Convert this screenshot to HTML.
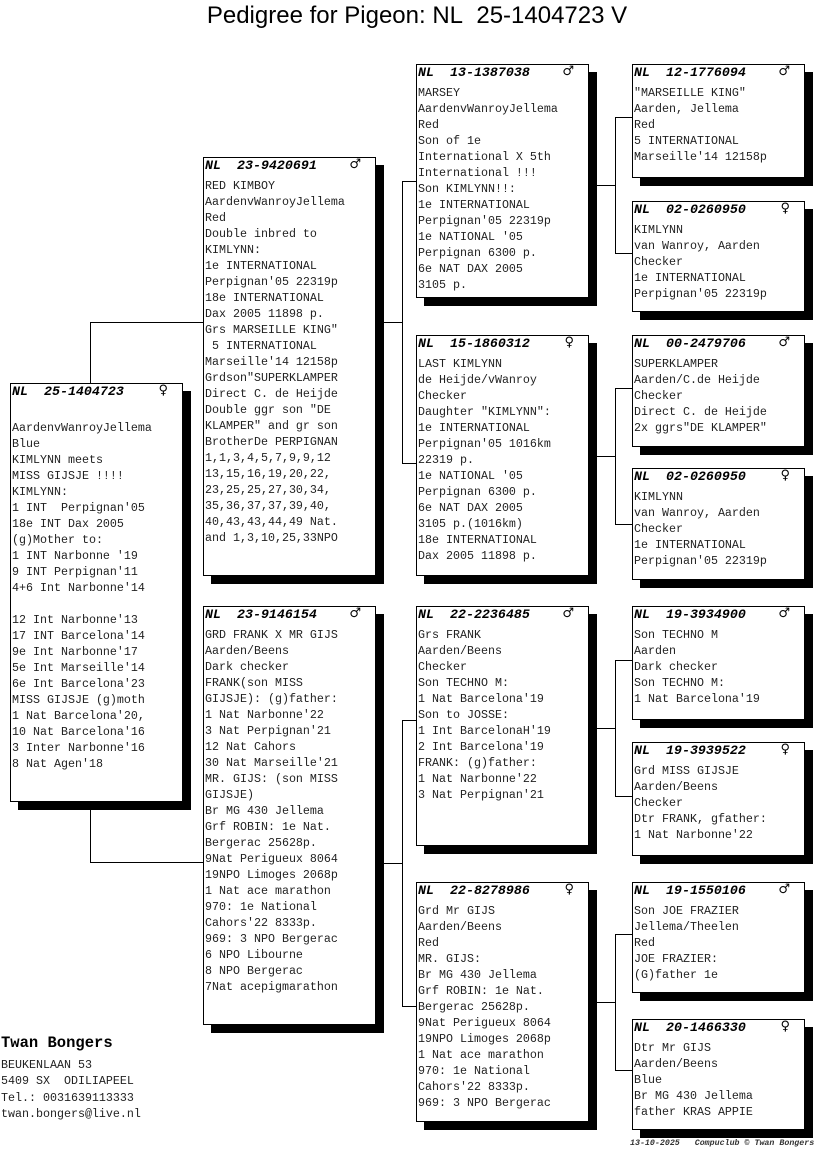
<!DOCTYPE html>
<html><head><meta charset="utf-8"><style>
body{margin:0;width:816px;height:1172px;background:#fff;position:relative;overflow:hidden;font-family:"Liberation Mono",monospace;}
.b{position:absolute;width:171px;border:1px solid #000;background:#fff;box-shadow:8px 8px 0 #000;font-size:11.67px;line-height:16px;color:#222;}
.h{height:20px;line-height:16px;font-weight:bold;font-style:italic;font-size:13.3px;padding-left:1px;position:relative;white-space:pre;color:#000}
.h i{position:absolute;left:33px;top:0;font-style:italic}
.g{position:absolute;right:14px;top:-1px;font-family:"DejaVu Sans",sans-serif;font-style:normal;font-size:13px;font-weight:bold}
.t{padding-left:1px;white-space:pre}
.l{position:absolute;background:#000}
.ttl{position:absolute;left:0;width:834px;text-align:center;top:2px;font-family:"Liberation Sans",sans-serif;font-size:24px}
</style></head><body>
<div class="ttl">Pedigree for Pigeon: NL&nbsp; 25-1404723 V</div>

<div class="l" style="left:90px;top:322px;width:1px;height:61px"></div>
<div class="l" style="left:90px;top:322px;width:113px;height:1px"></div>
<div class="l" style="left:90px;top:810px;width:1px;height:53px"></div>
<div class="l" style="left:90px;top:862px;width:113px;height:1px"></div>

<div class="l" style="left:384px;top:322px;width:18px;height:1px"></div>
<div class="l" style="left:402px;top:181px;width:1px;height:283px"></div>
<div class="l" style="left:402px;top:181px;width:14px;height:1px"></div>
<div class="l" style="left:402px;top:463px;width:14px;height:1px"></div>

<div class="l" style="left:384px;top:863px;width:18px;height:1px"></div>
<div class="l" style="left:402px;top:720px;width:1px;height:287px"></div>
<div class="l" style="left:402px;top:720px;width:14px;height:1px"></div>
<div class="l" style="left:402px;top:1006px;width:14px;height:1px"></div>

<div class="l" style="left:597px;top:185px;width:18px;height:1px"></div>
<div class="l" style="left:615px;top:117px;width:1px;height:137px"></div>
<div class="l" style="left:615px;top:117px;width:17px;height:1px"></div>
<div class="l" style="left:615px;top:253px;width:17px;height:1px"></div>

<div class="l" style="left:597px;top:456px;width:18px;height:1px"></div>
<div class="l" style="left:615px;top:388px;width:1px;height:137px"></div>
<div class="l" style="left:615px;top:388px;width:17px;height:1px"></div>
<div class="l" style="left:615px;top:524px;width:17px;height:1px"></div>

<div class="l" style="left:597px;top:728px;width:18px;height:1px"></div>
<div class="l" style="left:615px;top:660px;width:1px;height:137px"></div>
<div class="l" style="left:615px;top:660px;width:17px;height:1px"></div>
<div class="l" style="left:615px;top:796px;width:17px;height:1px"></div>

<div class="l" style="left:597px;top:1002px;width:18px;height:1px"></div>
<div class="l" style="left:615px;top:934px;width:1px;height:137px"></div>
<div class="l" style="left:615px;top:934px;width:17px;height:1px"></div>
<div class="l" style="left:615px;top:1070px;width:17px;height:1px"></div>

<div class="b" style="left:10px;top:383px;height:417px"><div class="h">NL<i>25-1404723</i><span class="g">♀</span></div><div class="t">&nbsp;
AardenvWanroyJellema
Blue
KIMLYNN meets
MISS GIJSJE !!!!
KIMLYNN:
1 INT  Perpignan'05
18e INT Dax 2005
(g)Mother to:
1 INT Narbonne '19
9 INT Perpignan'11
4+6 Int Narbonne'14

12 Int Narbonne'13
17 INT Barcelona'14
9e Int Narbonne'17
5e Int Marseille'14
6e Int Barcelona'23
MISS GIJSJE (g)moth
1 Nat Barcelona'20,
10 Nat Barcelona'16
3 Inter Narbonne'16
8 Nat Agen'18</div></div>

<div class="b" style="left:203px;top:157px;height:417px"><div class="h">NL<i>23-9420691</i><span class="g">♂</span></div><div class="t">RED KIMBOY
AardenvWanroyJellema
Red
Double inbred to
KIMLYNN:
1e INTERNATIONAL
Perpignan'05 22319p
18e INTERNATIONAL
Dax 2005 11898 p.
Grs MARSEILLE KING"
 5 INTERNATIONAL
Marseille'14 12158p
Grdson"SUPERKLAMPER
Direct C. de Heijde
Double ggr son "DE
KLAMPER" and gr son
BrotherDe PERPIGNAN
1,1,3,4,5,7,9,9,12
13,15,16,19,20,22,
23,25,25,27,30,34,
35,36,37,37,39,40,
40,43,43,44,49 Nat.
and 1,3,10,25,33NPO</div></div>

<div class="b" style="left:203px;top:606px;height:417px"><div class="h">NL<i>23-9146154</i><span class="g">♂</span></div><div class="t">GRD FRANK X MR GIJS
Aarden/Beens
Dark checker
FRANK(son MISS
GIJSJE): (g)father:
1 Nat Narbonne'22
3 Nat Perpignan'21
12 Nat Cahors
30 Nat Marseille'21
MR. GIJS: (son MISS
GIJSJE)
Br MG 430 Jellema
Grf ROBIN: 1e Nat.
Bergerac 25628p.
9Nat Perigueux 8064
19NPO Limoges 2068p
1 Nat ace marathon
970: 1e National
Cahors'22 8333p.
969: 3 NPO Bergerac
6 NPO Libourne
8 NPO Bergerac
7Nat acepigmarathon</div></div>

<div class="b" style="left:416px;top:64px;height:232px"><div class="h">NL<i>13-1387038</i><span class="g">♂</span></div><div class="t">MARSEY
AardenvWanroyJellema
Red
Son of 1e
International X 5th
International !!!
Son KIMLYNN!!:
1e INTERNATIONAL
Perpignan'05 22319p
1e NATIONAL '05
Perpignan 6300 p.
6e NAT DAX 2005
3105 p.</div></div>

<div class="b" style="left:416px;top:335px;height:239px"><div class="h">NL<i>15-1860312</i><span class="g">♀</span></div><div class="t">LAST KIMLYNN
de Heijde/vWanroy
Checker
Daughter "KIMLYNN":
1e INTERNATIONAL
Perpignan'05 1016km
22319 p.
1e NATIONAL '05
Perpignan 6300 p.
6e NAT DAX 2005
3105 p.(1016km)
18e INTERNATIONAL
Dax 2005 11898 p.</div></div>

<div class="b" style="left:416px;top:606px;height:238px"><div class="h">NL<i>22-2236485</i><span class="g">♂</span></div><div class="t">Grs FRANK
Aarden/Beens
Checker
Son TECHNO M:
1 Nat Barcelona'19
Son to JOSSE:
1 Int BarcelonaH'19
2 Int Barcelona'19
FRANK: (g)father:
1 Nat Narbonne'22
3 Nat Perpignan'21</div></div>

<div class="b" style="left:416px;top:882px;height:238px"><div class="h">NL<i>22-8278986</i><span class="g">♀</span></div><div class="t">Grd Mr GIJS
Aarden/Beens
Red
MR. GIJS:
Br MG 430 Jellema
Grf ROBIN: 1e Nat.
Bergerac 25628p.
9Nat Perigueux 8064
19NPO Limoges 2068p
1 Nat ace marathon
970: 1e National
Cahors'22 8333p.
969: 3 NPO Bergerac</div></div>

<div class="b" style="left:632px;top:64px;height:112px"><div class="h">NL<i>12-1776094</i><span class="g">♂</span></div><div class="t">"MARSEILLE KING"
Aarden, Jellema
Red
5 INTERNATIONAL
Marseille'14 12158p</div></div>

<div class="b" style="left:632px;top:201px;height:109px"><div class="h">NL<i>02-0260950</i><span class="g">♀</span></div><div class="t">KIMLYNN
van Wanroy, Aarden
Checker
1e INTERNATIONAL
Perpignan'05 22319p</div></div>

<div class="b" style="left:632px;top:335px;height:110px"><div class="h">NL<i>00-2479706</i><span class="g">♂</span></div><div class="t">SUPERKLAMPER
Aarden/C.de Heijde
Checker
Direct C. de Heijde
2x ggrs"DE KLAMPER"</div></div>

<div class="b" style="left:632px;top:468px;height:110px"><div class="h">NL<i>02-0260950</i><span class="g">♀</span></div><div class="t">KIMLYNN
van Wanroy, Aarden
Checker
1e INTERNATIONAL
Perpignan'05 22319p</div></div>

<div class="b" style="left:632px;top:606px;height:112px"><div class="h">NL<i>19-3934900</i><span class="g">♂</span></div><div class="t">Son TECHNO M
Aarden
Dark checker
Son TECHNO M:
1 Nat Barcelona'19</div></div>

<div class="b" style="left:632px;top:742px;height:112px"><div class="h">NL<i>19-3939522</i><span class="g">♀</span></div><div class="t">Grd MISS GIJSJE
Aarden/Beens
Checker
Dtr FRANK, gfather:
1 Nat Narbonne'22</div></div>

<div class="b" style="left:632px;top:882px;height:109px"><div class="h">NL<i>19-1550106</i><span class="g">♂</span></div><div class="t">Son JOE FRAZIER
Jellema/Theelen
Red
JOE FRAZIER:
(G)father 1e</div></div>

<div class="b" style="left:632px;top:1019px;height:109px"><div class="h">NL<i>20-1466330</i><span class="g">♀</span></div><div class="t">Dtr Mr GIJS
Aarden/Beens
Blue
Br MG 430 Jellema
father KRAS APPIE</div></div>

<div style="position:absolute;left:1px;top:1034px;font-weight:bold;font-size:15.5px;white-space:pre">Twan Bongers</div>
<div style="position:absolute;left:1px;top:1057px;font-size:11.67px;line-height:16.3px;white-space:pre;color:#222">BEUKENLAAN 53
5409 SX  ODILIAPEEL
Tel.: 0031639113333
twan.bongers@live.nl</div>
<div style="position:absolute;left:630px;top:1139px;font-size:8.3px;font-style:italic;font-weight:bold;white-space:pre;color:#333">13-10-2025   Compuclub © Twan Bongers</div>
</body></html>
